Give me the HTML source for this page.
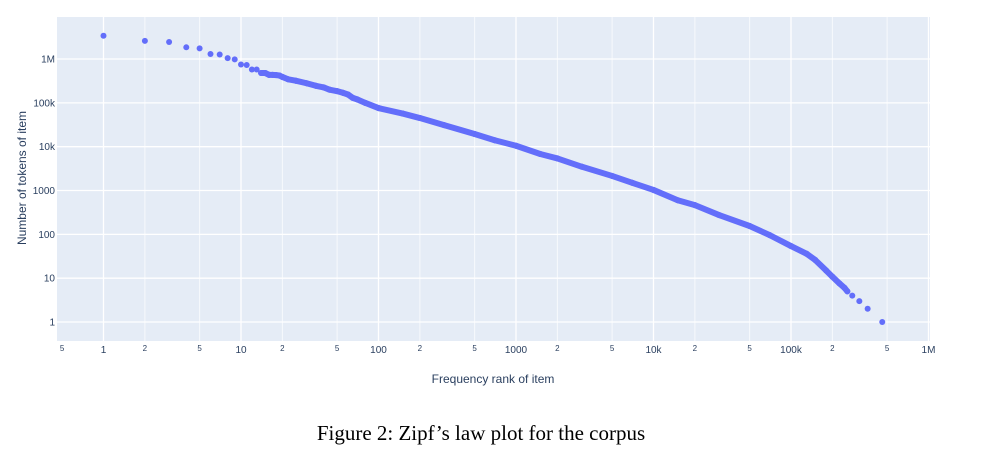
<!DOCTYPE html>
<html><head><meta charset="utf-8"><style>
body{margin:0;background:#fff;width:983px;height:462px;overflow:hidden}
svg{display:block}
</style></head><body>
<svg id="chart" width="983" height="462" xmlns="http://www.w3.org/2000/svg" font-family="Liberation Sans, sans-serif">
<rect x="57" y="17" width="873" height="324" fill="#e5ecf6"/>
<g id="grid"></g>
<g id="ticks"></g>
<g id="marks"></g>
<text x="493" y="383" font-size="12" fill="#2a3f5f" text-anchor="middle">Frequency rank of item</text>
<text transform="translate(26,178) rotate(-90)" font-size="12" fill="#2a3f5f" text-anchor="middle">Number of tokens of item</text>
<text x="481" y="440" font-size="21" font-family="Liberation Serif, serif" fill="#000" text-anchor="middle">Figure 2: Zipf’s law plot for the corpus</text>
</svg>
<script>
const ranks=[1,2,3,4,5,6,7,8,9,10,11,12,13,14,15,16,17,18,19,20,22,25,30,35,40,44,50,55,60,65,70,80,100,150,200,300,500,700,1000,1500,2000,3000,5000,7000,10000,15000,20000,30000,50000,70000,100000,130000,150000,180000,200000,225000,245000,257000,279000,314000,361000,461000];
const counts=[3400000,2600000,2450000,1850000,1750000,1300000,1270000,1050000,980000,750000,730000,575000,575000,480000,480000,435000,435000,430000,420000,390000,345000,320000,280000,245000,225000,200000,185000,170000,155000,130000,120000,100000,76000,57000,45000,31000,19500,14000,10500,6800,5400,3500,2150,1500,1030,600,465,275,155,96,54,36,26,15,10.8,7.6,6,5,4,3,2,1];
const denseFrom=14, denseTo=257000;
const xMajorVals=[1,10,100,1000,10000,100000,1000000];
const xMajorLabels=["1","10","100","1000","10k","100k","1M"];
const xMinorVals=[0.5,2,5,20,50,200,500,2000,5000,20000,50000,200000,500000];
const xMinorLabels=["5","2","5","2","5","2","5","2","5","2","5","2","5"];
const yVals=[1,10,100,1000,10000,100000,1000000];
const yLabels=["1","10","100","1000","10k","100k","1M"];
const NS="http://www.w3.org/2000/svg";
function X(v){return 103.5+137.5*Math.log10(v);}
function Y(v){return 322-43.83*Math.log10(v);}
function mk(tag,attrs,parent){const e=document.createElementNS(NS,tag);for(const k in attrs)e.setAttribute(k,attrs[k]);document.getElementById(parent).appendChild(e);return e;}
xMinorVals.forEach((v,i)=>{
 if(v>=1){const g=mk('line',{x1:X(v),x2:X(v),y1:17,y2:341,stroke:'#fff','stroke-width':1,opacity:0.7},'grid');
 
 }
 const t=mk('text',{x:X(v),y:351,'font-size':8,fill:'#2a3f5f','text-anchor':'middle'},'ticks');t.textContent=xMinorLabels[i];
 
 
});
xMajorVals.forEach((v,i)=>{
 const g=mk('line',{x1:X(v),x2:X(v),y1:17,y2:341,stroke:'#fff','stroke-width':1.3},'grid');
 
 
 const t=mk('text',{x:X(v),y:353,'font-size':10,fill:'#2a3f5f','text-anchor':'middle'},'ticks');t.textContent=xMajorLabels[i];
 
 
});
yVals.forEach((v,i)=>{
 const g=mk('line',{x1:57,x2:930,y1:Y(v),y2:Y(v),stroke:'#fff','stroke-width':1.3},'grid');
 
 
 const t=mk('text',{x:55,y:Y(v)+3.5,'font-size':10,fill:'#2a3f5f','text-anchor':'end'},'ticks');t.textContent=yLabels[i];
 
 
});
for(let i=1;i<ranks.length;i++){
 if(ranks[i-1]>=denseFrom && ranks[i]<=denseTo){
  const l=mk('line',{x1:X(ranks[i-1]),y1:Y(counts[i-1]),x2:X(ranks[i]),y2:Y(counts[i]),stroke:'#636efa','stroke-width':6,'stroke-linecap':'round'},'marks');
  
  
 }
}
ranks.forEach((r,i)=>{
 const c=mk('circle',{cx:X(r),cy:Y(counts[i]),r:3,fill:'#636efa'},'marks');
 
 
});
</script>
</body></html>
